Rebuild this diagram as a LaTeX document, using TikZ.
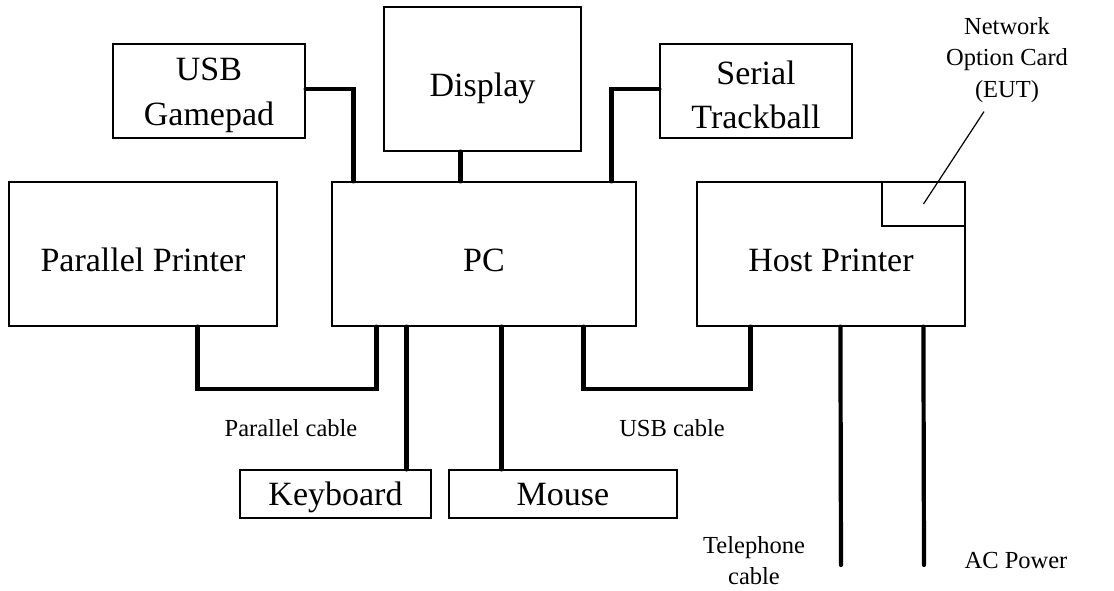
\documentclass[tikz,border=0pt]{standalone}
\usepackage{fontspec}
\setmainfont{Liberation Serif}
\begin{document}
\begin{tikzpicture}[x=1pt,y=1pt,
  box/.style={draw, line width=1.2pt, inner sep=0pt, align=center,
    font=\fontsize{34}{44.5}\selectfont},
  bigtext/.style={text height=36pt, text depth=0pt},
  smalltext/.style={text height=22pt, text depth=0pt},
  lbl/.style={inner sep=0pt, align=center, font=\fontsize{24.5}{31.5}\selectfont},
  cable/.style={line width=4.2pt, line cap=round},
  pointer/.style={line width=1.2pt}]
\useasboundingbox (0,0) rectangle (1114,590);
% boxes
\node[box, minimum width=192pt, minimum height=94pt] (gp) at (209,499) {\rule{0pt}{31pt}USB\\Gamepad};
\node[box, bigtext, minimum width=197pt, minimum height=144pt] (disp) at (482.5,511) {Display};
\node[box, minimum width=192pt, minimum height=94pt] (tb) at (756,499) {\rule{0pt}{31pt}Serial\\Trackball};
\node[box, bigtext, minimum width=268pt, minimum height=144pt] (pp) at (143,336) {Parallel Printer};
\node[box, bigtext, minimum width=304pt, minimum height=144pt] (pc) at (484,336) {PC};
\node[box, bigtext, minimum width=268pt, minimum height=144pt] (hp) at (831,336) {Host Printer};
\node[box, minimum width=83pt, minimum height=44pt] (nc) at (923.5,386) {};
\node[box, smalltext, minimum width=191pt, minimum height=48pt] (kb) at (335.5,96) {Keyboard};
\node[box, smalltext, minimum width=228pt, minimum height=48pt] (ms) at (563,96) {Mouse};
% labels
\node[lbl, anchor=base] (plab) at (291,154) {Parallel cable};
\node[lbl, anchor=base] (ulab) at (672,154) {USB cable};
\node[lbl, anchor=north] (tlab) at (754,54) {Telephone\\cable};
\node[lbl, anchor=base] (aclab) at (1016,22) {AC Power};
\node[lbl, anchor=north] (nlab) at (1007,573) {Network\\Option Card\\(EUT)};
\coordinate (telend) at (841,25);
\coordinate (acend) at (924,25);
% cables
\draw[cable] ([yshift=2pt]gp.east) -| ([xshift=22pt]pc.north west);
\draw[cable] ([xshift=77pt]disp.south west) -- ([xshift=129pt]pc.north west);
\draw[cable] ([yshift=2pt]tb.west) -| ([xshift=280pt]pc.north west);
\draw[cable] ([xshift=189pt]pp.south west) |- ([xshift=45pt,yshift=-62pt]pc.south west) -- ([xshift=45pt]pc.south west);
\draw[cable] ([xshift=75pt]pc.south west) -- ([xshift=167pt]kb.north west);
\draw[cable] ([xshift=170pt]pc.south west) -- ([xshift=53pt]ms.north west);
\draw[cable] ([xshift=252pt]pc.south west) |- ([xshift=54pt,yshift=-62pt]hp.south west) -- ([xshift=54pt]hp.south west);
\draw[cable] ([xshift=144pt]hp.south west) -- (telend);
\draw[cable] ([xshift=227pt]hp.south west) -- (acend);
% pointer
\draw[pointer] ([xshift=-23pt,yshift=-9pt]nlab.south) -- (nc.center);
\end{tikzpicture}
\end{document}
